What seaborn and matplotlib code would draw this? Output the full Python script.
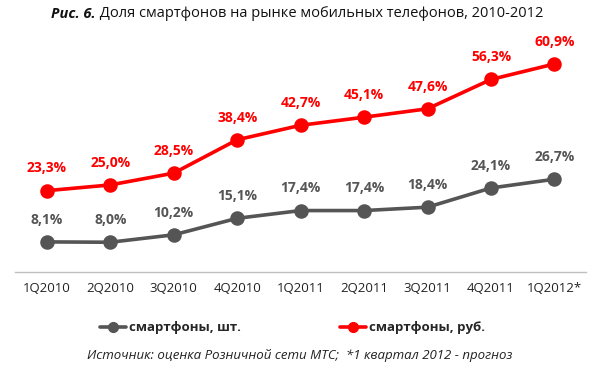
import numpy as np
import pandas as pd
import matplotlib
matplotlib.use("Agg")
import matplotlib.pyplot as plt
import seaborn as sns
from matplotlib.lines import Line2D

quarters = ["1Q2010", "2Q2010", "3Q2010", "4Q2010", "1Q2011",
            "2Q2011", "3Q2011", "4Q2011", "1Q2012*"]
units = [8.1, 8.0, 10.2, 15.1, 17.4, 17.4, 18.4, 24.1, 26.7]
rubles = [23.3, 25.0, 28.5, 38.4, 42.7, 45.1, 47.6, 56.3, 60.9]
series_names = ["смартфоны, шт.", "смартфоны, руб."]
colors = {"смартфоны, шт.": "#555555", "смартфоны, руб.": "#ff0000"}

df = pd.DataFrame({
    "quarter": quarters * 2,
    "value": units + rubles,
    "series": [series_names[0]] * len(units) + [series_names[1]] * len(rubles),
})

sns.set_style("white")
plt.rcParams["font.family"] = ["Open Sans", "DejaVu Sans"]

fig = plt.figure(figsize=(6, 3.74), dpi=100)
ax = fig.add_axes([0.025, 0.273, 0.952, 0.638])

sns.pointplot(data=df, x="quarter", y="value", hue="series", order=quarters,
              hue_order=series_names, palette=colors, markers="o",
              markersize=8.5, linewidth=2.6, ax=ax, legend=False)

ax.set_xlim(-0.5, len(quarters) - 0.5)
ax.set_ylim(-0.8, 70)
ax.set_xlabel("")
ax.set_ylabel("")
ax.set_yticks([])
for s in ["top", "right", "left"]:
    ax.spines[s].set_visible(False)
ax.spines["bottom"].set_color("#bfbfbf")
ax.spines["bottom"].set_linewidth(1)

ax.set_xticks(range(len(quarters)))
ax.set_xticklabels(quarters, fontsize=9.5, color="#222222")
ax.tick_params(axis="x", which="major", length=0, pad=7)
ax.set_xticks(np.arange(-0.5, len(quarters), 1), minor=True)
ax.tick_params(axis="x", which="minor", length=4, color="#bfbfbf", width=1)

for i, (u, r) in enumerate(zip(units, rubles)):
    ax.annotate(f"{u:.1f}".replace(".", ",") + "%", (i, u), xytext=(0, 11),
                textcoords="offset points", ha="center", va="bottom",
                fontsize=10, fontweight="bold", color="#555555")
    ax.annotate(f"{r:.1f}".replace(".", ",") + "%", (i, r), xytext=(0, 11),
                textcoords="offset points", ha="center", va="bottom",
                fontsize=10, fontweight="bold", color="#ff0000")

handles = [Line2D([0], [0], color=colors[n], lw=2.6, marker="o", markersize=7)
           for n in series_names]
fig.legend(handles, series_names, loc="center", bbox_to_anchor=(0.487, 0.123),
           ncol=2, frameon=False, handlelength=2.0, handletextpad=0.2,
           columnspacing=7.5, prop={"weight": "bold", "size": 9.5})

# title: bold italic prefix + regular text, centred as a whole
title_y = 0.963
fs = 10.5
t1 = fig.text(0, title_y, "Рис. 6.", fontsize=fs, fontstyle="italic",
              fontweight="bold", ha="left", va="center", color="#111111")
t2 = fig.text(0, title_y, " Доля смартфонов на рынке мобильных телефонов, 2010-2012",
              fontsize=fs, ha="left", va="center", color="#111111")
fig.canvas.draw()
w1 = t1.get_window_extent().width / fig.bbox.width
w2 = t2.get_window_extent().width / fig.bbox.width
x0 = 0.495 - (w1 + w2) / 2
t1.set_x(x0)
t2.set_x(x0 + w1)

fig.text(0.499, 0.05, "Источник: оценка Розничной сети МТС;  *1 квартал 2012 - прогноз",
         fontsize=9.5, fontstyle="italic", ha="center", va="center", color="#222222")

fig.savefig("out.png", dpi=100)
